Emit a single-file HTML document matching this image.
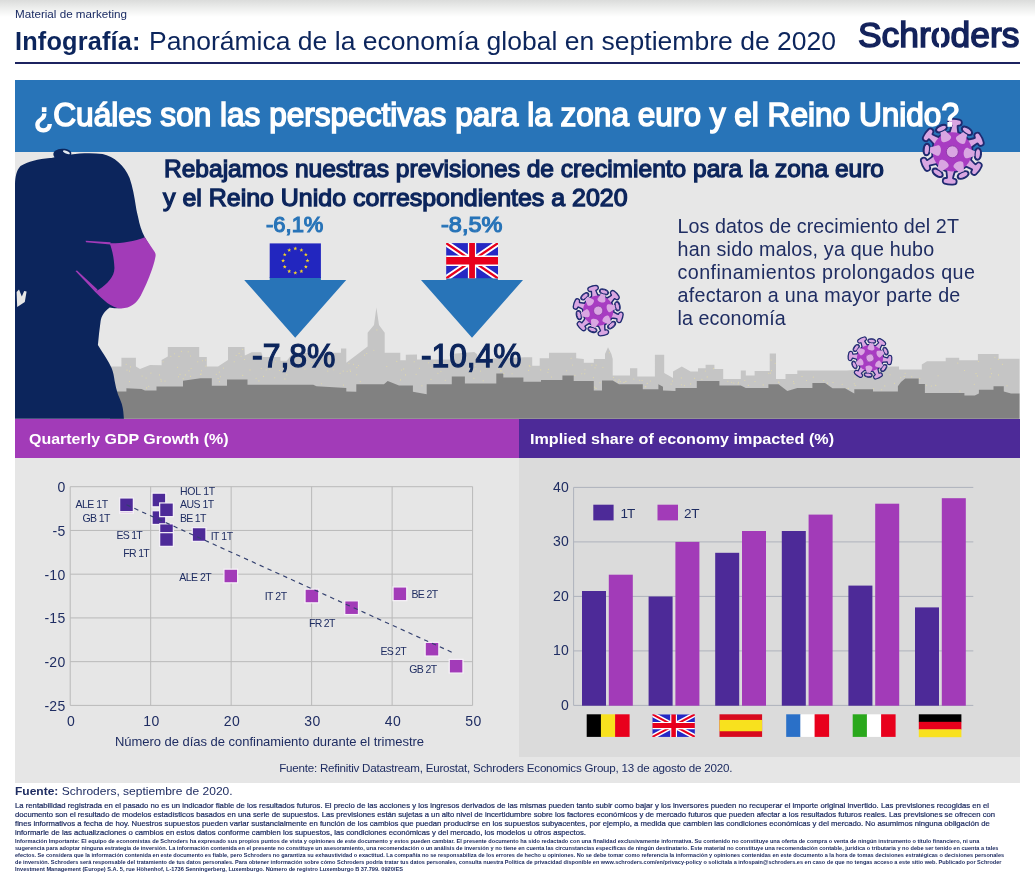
<!DOCTYPE html>
<html lang="es">
<head>
<meta charset="utf-8">
<title>Infografía: Panorámica de la economía global en septiembre de 2020</title>
<style>
html,body{margin:0;padding:0;background:#fff;}
body{width:1035px;height:875px;overflow:hidden;font-family:"Liberation Sans",sans-serif;}
#page{position:relative;width:1035px;height:875px;overflow:hidden;background:#fff;}
.t{position:absolute;white-space:nowrap;margin:0;padding:0;}
.abs{position:absolute;}
svg{position:absolute;left:0;top:0;overflow:visible;}
</style>
</head>
<body>
<div id="page">
<div class="abs" style="left:0;top:0;width:1035px;height:17px;background:linear-gradient(#dbdcdb,#eeefee 50%,#ffffff);"></div>
<div class="abs" style="left:15px;top:62.4px;width:1004.5px;height:1.3px;background:#1c2360;"></div>
<div class="abs" style="left:15px;top:80px;width:1004.5px;height:72px;background:#2874b8;"></div>
<div class="abs" style="left:15px;top:151.7px;width:1004.5px;height:267px;background:#e7e7e7;"></div>
<div class="abs" style="left:15px;top:418.6px;width:504px;height:39.4px;background:#a23bb8;"></div>
<div class="abs" style="left:519px;top:418.6px;width:500.5px;height:39.4px;background:#4d2a98;"></div>
<div class="abs" style="left:15px;top:458px;width:504px;height:325px;background:#e6e6e6;"></div>
<div class="abs" style="left:519px;top:458px;width:500.5px;height:298.8px;background:#dbdbdb;"></div>
<div class="abs" style="left:519px;top:756.8px;width:500.5px;height:26.2px;background:#e6e6e6;"></div>
<svg width="1035" height="875" viewBox="0 0 1035 875">
<path d="M110.0,366.5 L121.4,366.5 L121.4,357.7 L135.9,357.7 L135.9,366.5 L140.0,369.0 L150.0,365.0 L161.6,365.2 L161.6,360.0 L167.8,356.4 L167.8,347.0 L199.2,347.0 L199.2,357.0 L206.8,357.0 L206.8,366.5 L218.0,366.5 L228.0,360.0 L228.0,347.0 L244.5,347.0 L244.8,355.5 L251.7,352.3 L261.3,352.3 L262.8,357.0 L280.4,357.0 L280.4,360.8 L286.8,360.8 L293.0,352.8 L309.0,352.8 L309.0,357.0 L332.5,352.8 L341.0,352.8 L341.0,348.6 L346.3,348.6 L346.3,362.8 L367.6,346.5 L367.6,332.7 L374.0,325.0 L376.4,307.5 L379.0,325.0 L384.7,332.7 L384.7,352.8 L400.3,352.8 L400.3,360.3 L405.8,360.3 L405.8,354.8 L417.0,354.5 L417.0,359.6 L450.0,359.6 L453.0,353.8 L474.3,352.0 L477.2,354.3 L477.2,359.0 L524.7,357.3 L532.2,357.3 L532.2,365.8 L539.7,365.8 L539.7,358.3 L549.0,358.3 L549.0,352.8 L576.2,352.8 L576.2,358.3 L583.8,359.0 L583.8,362.8 L593.8,362.8 L593.8,359.0 L605.0,359.0 L605.0,354.0 L608.0,347.2 L611.4,354.0 L612.7,359.0 L612.7,375.4 L630.0,375.4 L630.0,368.3 L637.3,368.3 L637.3,376.6 L654.9,376.6 L654.9,354.8 L664.2,354.8 L664.2,372.9 L673.0,377.9 L673.0,371.6 L681.8,366.6 L690.6,371.6 L698.0,371.6 L698.0,368.3 L705.6,368.3 L705.6,364.8 L714.4,364.8 L714.4,369.1 L723.2,369.1 L723.2,379.1 L740.8,379.1 L740.8,370.4 L745.8,370.4 L745.8,375.4 L754.6,375.4 L754.6,371.1 L769.7,371.1 L769.7,353.5 L776.0,353.5 L776.0,379.1 L785.5,379.1 L785.5,374.1 L797.3,374.1 L797.3,370.4 L847.0,370.6 L890.6,366.5 L899.0,366.5 L899.0,369.6 L921.8,369.6 L921.8,364.4 L927.0,361.3 L945.7,361.3 L945.7,357.7 L959.2,357.7 L959.2,360.2 L977.9,360.2 L977.9,354.0 L998.6,354.0 L998.6,358.8 L1019.5,358.8 L1019.5,418.8 L110.0,418.8 Z" fill="#c5c5c5"/>
<path d="M110.0,391.6 L126.4,391.6 L126.4,388.3 L141.5,389.0 L145.0,390.4 L156.5,390.4 L156.5,386.6 L183.0,386.6 L183.0,380.8 L200.5,378.3 L211.8,378.3 L211.8,385.8 L227.0,385.8 L227.0,379.5 L247.5,379.5 L247.5,384.8 L313.3,384.7 L316.5,386.3 L346.3,388.0 L346.3,391.6 L356.3,391.7 L356.3,384.2 L384.0,384.2 L387.7,380.9 L399.0,385.4 L412.9,385.4 L412.9,391.7 L426.7,394.2 L426.7,384.2 L451.8,384.2 L451.8,376.6 L464.9,376.6 L464.9,383.4 L496.3,383.4 L496.3,373.4 L503.3,373.4 L503.3,377.4 L523.4,377.4 L523.4,381.7 L541.0,381.7 L541.0,379.9 L562.4,379.9 L562.4,375.4 L573.7,375.4 L573.7,380.9 L593.8,380.9 L593.8,390.5 L602.0,390.5 L602.0,380.4 L612.7,380.4 L619.0,384.2 L642.8,384.2 L642.8,389.2 L658.4,389.2 L658.4,384.2 L663.0,386.7 L663.0,390.5 L675.5,391.0 L675.5,388.0 L696.8,388.0 L696.8,380.9 L719.4,380.9 L719.4,385.4 L740.8,385.4 L745.8,388.0 L768.4,388.0 L768.4,384.2 L778.5,384.2 L787.3,391.0 L797.3,388.0 L812.4,388.0 L812.4,383.0 L825.0,383.0 L832.5,388.3 L845.0,388.3 L854.3,393.5 L854.3,389.3 L873.0,389.3 L873.0,391.4 L897.9,391.4 L897.9,386.2 L901.0,382.0 L905.2,378.5 L918.7,378.5 L918.7,384.1 L924.9,384.1 L924.9,393.0 L964.4,393.0 L964.4,395.5 L974.8,395.5 L978.9,393.5 L978.9,389.7 L993.5,389.7 L993.5,386.2 L1003.8,386.2 L1003.8,391.4 L1011.0,393.5 L1019.5,393.5 L1019.5,418.8 L110.0,418.8 Z" fill="#818181"/>
<g fill="#eadf9f" opacity="0.8"><circle cx="414.2" cy="361.7" r="0.55"/><circle cx="705.3" cy="371.0" r="0.55"/><circle cx="602.9" cy="367.5" r="0.55"/><circle cx="177.6" cy="367.3" r="0.55"/><circle cx="159.4" cy="374.9" r="0.55"/><circle cx="188.2" cy="351.7" r="0.55"/><circle cx="503.8" cy="373.2" r="0.55"/><circle cx="236.2" cy="355.5" r="0.55"/><circle cx="684.4" cy="385.6" r="0.55"/><circle cx="639.6" cy="380.2" r="0.55"/><circle cx="994.9" cy="357.3" r="0.55"/><circle cx="890.0" cy="374.7" r="0.55"/><circle cx="254.4" cy="357.7" r="0.55"/><circle cx="400.5" cy="379.9" r="0.55"/><circle cx="286.8" cy="374.7" r="0.55"/><circle cx="694.6" cy="378.4" r="0.55"/><circle cx="613.5" cy="377.5" r="0.55"/><circle cx="179.0" cy="356.4" r="0.55"/><circle cx="731.6" cy="382.3" r="0.55"/><circle cx="405.6" cy="374.9" r="0.55"/><circle cx="529.3" cy="365.6" r="0.55"/><circle cx="833.0" cy="382.5" r="0.55"/><circle cx="343.2" cy="371.1" r="0.55"/><circle cx="593.4" cy="377.6" r="0.55"/><circle cx="775.2" cy="363.3" r="0.55"/><circle cx="998.4" cy="359.4" r="0.55"/><circle cx="498.1" cy="369.1" r="0.55"/><circle cx="261.3" cy="368.5" r="0.55"/><circle cx="160.9" cy="379.2" r="0.55"/><circle cx="806.5" cy="380.5" r="0.55"/><circle cx="905.2" cy="373.3" r="0.55"/><circle cx="744.8" cy="380.5" r="0.55"/><circle cx="642.1" cy="380.5" r="0.55"/><circle cx="873.6" cy="388.8" r="0.55"/><circle cx="547.9" cy="372.3" r="0.55"/><circle cx="180.0" cy="374.3" r="0.55"/><circle cx="701.9" cy="379.3" r="0.55"/><circle cx="469.4" cy="372.8" r="0.55"/><circle cx="146.1" cy="378.0" r="0.55"/><circle cx="275.6" cy="361.8" r="0.55"/><circle cx="178.5" cy="376.7" r="0.55"/><circle cx="241.1" cy="356.2" r="0.55"/><circle cx="473.9" cy="378.3" r="0.55"/><circle cx="197.7" cy="361.7" r="0.55"/><circle cx="615.0" cy="380.0" r="0.55"/><circle cx="855.2" cy="385.6" r="0.55"/><circle cx="373.8" cy="350.3" r="0.55"/><circle cx="445.3" cy="380.3" r="0.55"/><circle cx="978.4" cy="361.5" r="0.55"/><circle cx="282.8" cy="367.5" r="0.55"/><circle cx="333.7" cy="369.8" r="0.55"/><circle cx="650.3" cy="381.0" r="0.55"/><circle cx="129.6" cy="371.1" r="0.55"/><circle cx="454.6" cy="366.7" r="0.55"/><circle cx="974.3" cy="384.2" r="0.55"/><circle cx="584.8" cy="373.8" r="0.55"/><circle cx="727.8" cy="381.3" r="0.55"/><circle cx="926.6" cy="385.3" r="0.55"/><circle cx="904.3" cy="376.5" r="0.55"/><circle cx="475.2" cy="365.6" r="0.55"/><circle cx="218.1" cy="378.5" r="0.55"/><circle cx="181.4" cy="351.4" r="0.55"/><circle cx="311.8" cy="362.5" r="0.55"/><circle cx="428.6" cy="362.7" r="0.55"/><circle cx="126.2" cy="364.3" r="0.55"/><circle cx="216.3" cy="374.2" r="0.55"/><circle cx="148.7" cy="386.2" r="0.55"/><circle cx="672.5" cy="381.1" r="0.55"/><circle cx="350.5" cy="371.5" r="0.55"/><circle cx="450.1" cy="364.0" r="0.55"/><circle cx="881.6" cy="389.8" r="0.55"/><circle cx="540.7" cy="369.9" r="0.55"/><circle cx="202.4" cy="360.8" r="0.55"/><circle cx="430.9" cy="367.2" r="0.55"/><circle cx="146.6" cy="387.9" r="0.55"/><circle cx="596.1" cy="365.1" r="0.55"/><circle cx="609.4" cy="352.8" r="0.55"/><circle cx="596.0" cy="388.4" r="0.55"/><circle cx="894.4" cy="383.4" r="0.55"/><circle cx="358.4" cy="365.5" r="0.55"/><circle cx="274.7" cy="377.7" r="0.55"/><circle cx="600.0" cy="382.8" r="0.55"/><circle cx="419.4" cy="368.2" r="0.55"/><circle cx="848.2" cy="388.4" r="0.55"/><circle cx="884.8" cy="385.9" r="0.55"/><circle cx="854.3" cy="383.7" r="0.55"/><circle cx="327.8" cy="371.1" r="0.55"/><circle cx="442.5" cy="362.2" r="0.55"/><circle cx="150.9" cy="373.1" r="0.55"/><circle cx="356.7" cy="374.8" r="0.55"/><circle cx="977.3" cy="375.9" r="0.55"/><circle cx="959.9" cy="391.1" r="0.55"/><circle cx="976.0" cy="373.6" r="0.55"/><circle cx="322.2" cy="363.1" r="0.55"/><circle cx="301.1" cy="360.6" r="0.55"/><circle cx="681.4" cy="384.7" r="0.55"/><circle cx="707.2" cy="376.9" r="0.55"/><circle cx="201.5" cy="370.8" r="0.55"/><circle cx="935.7" cy="385.4" r="0.55"/><circle cx="793.6" cy="381.6" r="0.55"/><circle cx="284.9" cy="378.9" r="0.55"/><circle cx="421.9" cy="385.8" r="0.55"/><circle cx="990.8" cy="368.7" r="0.55"/><circle cx="483.2" cy="380.8" r="0.55"/><circle cx="771.1" cy="360.1" r="0.55"/><circle cx="239.1" cy="353.4" r="0.55"/><circle cx="931.3" cy="386.0" r="0.55"/><circle cx="256.1" cy="378.3" r="0.55"/><circle cx="998.5" cy="374.9" r="0.55"/><circle cx="437.9" cy="373.2" r="0.55"/><circle cx="242.6" cy="349.4" r="0.55"/><circle cx="990.1" cy="376.9" r="0.55"/><circle cx="594.7" cy="387.1" r="0.55"/><circle cx="512.1" cy="373.8" r="0.55"/><circle cx="350.1" cy="370.1" r="0.55"/><circle cx="340.1" cy="373.2" r="0.55"/><circle cx="356.8" cy="367.6" r="0.55"/><circle cx="242.7" cy="375.4" r="0.55"/><circle cx="440.9" cy="371.3" r="0.55"/><circle cx="645.2" cy="386.8" r="0.55"/><circle cx="500.4" cy="370.9" r="0.55"/><circle cx="572.5" cy="365.0" r="0.55"/><circle cx="591.9" cy="365.1" r="0.55"/><circle cx="517.7" cy="362.5" r="0.55"/><circle cx="129.5" cy="381.5" r="0.55"/><circle cx="279.4" cy="370.5" r="0.55"/><circle cx="771.4" cy="370.6" r="0.55"/><circle cx="416.1" cy="374.3" r="0.55"/><circle cx="620.3" cy="381.6" r="0.55"/><circle cx="220.4" cy="376.7" r="0.55"/><circle cx="347.2" cy="371.3" r="0.55"/><circle cx="813.3" cy="377.1" r="0.55"/><circle cx="625.9" cy="381.4" r="0.55"/><circle cx="938.1" cy="375.8" r="0.55"/><circle cx="671.1" cy="384.1" r="0.55"/><circle cx="581.8" cy="373.7" r="0.55"/><circle cx="528.6" cy="370.4" r="0.55"/><circle cx="551.5" cy="377.0" r="0.55"/><circle cx="748.3" cy="385.4" r="0.55"/><circle cx="964.5" cy="370.5" r="0.55"/><circle cx="624.0" cy="382.4" r="0.55"/><circle cx="234.2" cy="361.8" r="0.55"/><circle cx="190.6" cy="356.0" r="0.55"/><circle cx="191.1" cy="368.5" r="0.55"/><circle cx="823.7" cy="380.6" r="0.55"/><circle cx="263.5" cy="376.4" r="0.55"/><circle cx="713.6" cy="368.6" r="0.55"/><circle cx="911.7" cy="376.8" r="0.55"/><circle cx="321.4" cy="383.7" r="0.55"/><circle cx="480.4" cy="371.1" r="0.55"/><circle cx="1007.0" cy="385.8" r="0.55"/><circle cx="269.7" cy="369.5" r="0.55"/><circle cx="584.9" cy="369.8" r="0.55"/><circle cx="300.2" cy="363.9" r="0.55"/><circle cx="768.7" cy="373.3" r="0.55"/><circle cx="619.1" cy="379.7" r="0.55"/><circle cx="142.1" cy="376.0" r="0.55"/><circle cx="681.3" cy="377.9" r="0.55"/><circle cx="183.2" cy="378.8" r="0.55"/><circle cx="827.6" cy="383.1" r="0.55"/><circle cx="219.3" cy="372.1" r="0.55"/><circle cx="161.2" cy="381.1" r="0.55"/><circle cx="366.7" cy="353.5" r="0.55"/><circle cx="501.8" cy="370.9" r="0.55"/><circle cx="854.9" cy="376.0" r="0.55"/><circle cx="258.9" cy="380.9" r="0.55"/><circle cx="633.8" cy="379.0" r="0.55"/><circle cx="205.6" cy="360.0" r="0.55"/><circle cx="738.5" cy="382.3" r="0.55"/><circle cx="190.4" cy="376.4" r="0.55"/><circle cx="690.7" cy="383.9" r="0.55"/><circle cx="200.5" cy="374.2" r="0.55"/><circle cx="185.3" cy="374.9" r="0.55"/><circle cx="529.9" cy="366.4" r="0.55"/><circle cx="618.2" cy="381.9" r="0.55"/><circle cx="364.4" cy="355.1" r="0.55"/><circle cx="595.0" cy="367.7" r="0.55"/><circle cx="223.4" cy="368.1" r="0.55"/><circle cx="170.8" cy="356.3" r="0.55"/><circle cx="403.7" cy="368.9" r="0.55"/><circle cx="802.0" cy="376.5" r="0.55"/><circle cx="571.1" cy="358.2" r="0.55"/><circle cx="434.8" cy="362.0" r="0.55"/><circle cx="348.9" cy="363.2" r="0.55"/><circle cx="778.4" cy="382.0" r="0.55"/><circle cx="294.6" cy="368.3" r="0.55"/><circle cx="957.8" cy="363.1" r="0.55"/><circle cx="854.8" cy="378.8" r="0.55"/><circle cx="566.6" cy="370.7" r="0.55"/><circle cx="475.8" cy="368.7" r="0.55"/><circle cx="738.1" cy="383.9" r="0.55"/><circle cx="431.0" cy="379.2" r="0.55"/><circle cx="755.0" cy="381.6" r="0.55"/><circle cx="486.2" cy="368.1" r="0.55"/><circle cx="174.4" cy="353.7" r="0.55"/><circle cx="188.9" cy="370.8" r="0.55"/><circle cx="353.5" cy="364.3" r="0.55"/><circle cx="201.2" cy="374.0" r="0.55"/><circle cx="900.8" cy="377.8" r="0.55"/><circle cx="376.9" cy="329.9" r="0.55"/><circle cx="386.8" cy="366.5" r="0.55"/><circle cx="266.2" cy="369.8" r="0.55"/><circle cx="360.3" cy="381.6" r="0.55"/><circle cx="991.6" cy="373.6" r="0.55"/><circle cx="343.6" cy="385.1" r="0.55"/><circle cx="401.5" cy="370.0" r="0.55"/><circle cx="127.0" cy="370.1" r="0.55"/><circle cx="548.4" cy="369.4" r="0.55"/><circle cx="304.9" cy="369.1" r="0.55"/><circle cx="130.4" cy="366.9" r="0.55"/><circle cx="205.9" cy="366.1" r="0.55"/><circle cx="163.1" cy="361.7" r="0.55"/><circle cx="396.8" cy="361.4" r="0.55"/><circle cx="647.2" cy="383.4" r="0.55"/><circle cx="794.0" cy="383.6" r="0.55"/><circle cx="763.2" cy="384.9" r="0.55"/><circle cx="472.7" cy="363.2" r="0.55"/><circle cx="1002.4" cy="364.4" r="0.55"/><circle cx="770.5" cy="373.0" r="0.55"/><circle cx="165.0" cy="381.0" r="0.55"/><circle cx="919.8" cy="378.5" r="0.55"/><circle cx="779.1" cy="382.8" r="0.55"/><circle cx="250.0" cy="369.9" r="0.55"/><circle cx="574.9" cy="375.3" r="0.55"/><circle cx="842.2" cy="384.3" r="0.55"/><circle cx="645.8" cy="386.7" r="0.55"/><circle cx="733.8" cy="383.0" r="0.55"/><circle cx="330.6" cy="356.1" r="0.55"/><circle cx="244.5" cy="359.5" r="0.55"/><circle cx="219.4" cy="381.6" r="0.55"/></g>
<path d="M15,418.8 L15,184 C15.3,176 16.5,170.5 20.5,166 C28,161.5 38,159 50,158 C52,157.8 53.5,157.6 54.5,157.2 C51.5,153.5 54.5,149.2 62,148.8 C68.5,148.6 72.5,151.2 71,154.6 C80,153.2 92,152.8 102.5,154 C114,156.2 124.5,165.5 129.6,178 C132.8,187 134.4,197 135.8,206 C136.4,210.5 137.4,214 138.4,218.5 C139.3,224 141.5,231 144.8,237.3 L150,246 L140,296 L121,308 C116,308.5 112.5,308.2 109.7,307.5 C104.5,311 101.5,316 100.6,321.2 C99.5,329 98.6,337 97.9,345 C100.5,349.5 103.5,353.5 105.8,357.5 C108,361 110,364.5 111.7,368.2 C113.2,372 114,376.5 114.6,380.8 C115.4,385.5 116.5,390 118,394.4 C119.3,397.7 120.8,400.8 121.8,404 C122.6,406.6 123,409.2 123.3,411.8 L123.9,418.8 Z" fill="#0c255c"/>
<path d="M16.6,292 L19,289.6 L21.8,296.5 L24.2,291 L26.6,291.5 L24.8,302 L17.2,307 Z" fill="#e7e7e7"/>
<ellipse cx="66.4" cy="152.2" rx="3.7" ry="1.35" transform="rotate(24 66.4 152.2)" fill="#e3e9f0"/>
<path d="M109.6,243.2 C121,243.4 134,241.6 144.8,237.2 L154.2,251.2 C155.8,253.4 155.9,255.2 155.3,257.4 C154.4,262 153,266.5 151.6,270.4 C148.4,279.5 144.6,288 140.8,295.6 C136.6,303.6 130.2,308.6 120.7,308.4 C111.5,308 102.8,299.5 94.8,291.4 L98.6,289.8 C108,283.5 114.8,276 114.4,267.5 C114,258 112.2,249.6 109.6,243.2 Z" fill="#a23bb8"/>
<path d="M85.6,240.8 L110.5,242.3 L110.5,244.4 L86,242.3 Z" fill="#a23bb8"/>
<path d="M75.5,271 L77,270.6 L97.5,289.6 L95.5,292.2 Z" fill="#a23bb8"/>
<path d="M269.7,277 L320.9,277 L320.9,279.9 L346.2,279.9 L295.2,337.8 L244.2,279.9 L269.7,279.9 Z" fill="#2874b8"/>
<path d="M446.3,277 L497.9,277 L497.9,279.9 L523.0,279.9 L472.0,337.8 L421.0,279.9 L446.3,279.9 Z" fill="#2874b8"/>
<rect x="269.7" y="243.4" width="51.2" height="34.6" fill="#2226bf"/>
<polygon points="307.50,258.60 308.02,259.99 309.50,260.05 308.34,260.97 308.73,262.40 307.50,261.58 306.27,262.40 306.66,260.97 305.50,260.05 306.98,259.99" fill="#f5d328"/>
<polygon points="305.87,264.70 306.38,266.09 307.86,266.15 306.70,267.07 307.10,268.50 305.87,267.68 304.63,268.50 305.03,267.07 303.87,266.15 305.35,266.09" fill="#f5d328"/>
<polygon points="301.40,269.17 301.92,270.55 303.40,270.62 302.24,271.54 302.63,272.96 301.40,272.15 300.17,272.96 300.56,271.54 299.40,270.62 300.88,270.55" fill="#f5d328"/>
<polygon points="295.30,270.80 295.82,272.19 297.30,272.25 296.14,273.17 296.53,274.60 295.30,273.78 294.07,274.60 294.46,273.17 293.30,272.25 294.78,272.19" fill="#f5d328"/>
<polygon points="289.20,269.17 289.72,270.55 291.20,270.62 290.04,271.54 290.43,272.96 289.20,272.15 287.97,272.96 288.36,271.54 287.20,270.62 288.68,270.55" fill="#f5d328"/>
<polygon points="284.73,264.70 285.25,266.09 286.73,266.15 285.57,267.07 285.97,268.50 284.73,267.68 283.50,268.50 283.90,267.07 282.74,266.15 284.22,266.09" fill="#f5d328"/>
<polygon points="283.10,258.60 283.62,259.99 285.10,260.05 283.94,260.97 284.33,262.40 283.10,261.58 281.87,262.40 282.26,260.97 281.10,260.05 282.58,259.99" fill="#f5d328"/>
<polygon points="284.73,252.50 285.25,253.89 286.73,253.95 285.57,254.87 285.97,256.30 284.73,255.48 283.50,256.30 283.90,254.87 282.74,253.95 284.22,253.89" fill="#f5d328"/>
<polygon points="289.20,248.03 289.72,249.42 291.20,249.49 290.04,250.41 290.43,251.83 289.20,251.02 287.97,251.83 288.36,250.41 287.20,249.49 288.68,249.42" fill="#f5d328"/>
<polygon points="295.30,246.40 295.82,247.79 297.30,247.85 296.14,248.77 296.53,250.20 295.30,249.38 294.07,250.20 294.46,248.77 293.30,247.85 294.78,247.79" fill="#f5d328"/>
<polygon points="301.40,248.03 301.92,249.42 303.40,249.49 302.24,250.41 302.63,251.83 301.40,251.02 300.17,251.83 300.56,250.41 299.40,249.49 300.88,249.42" fill="#f5d328"/>
<polygon points="305.87,252.50 306.38,253.89 307.86,253.95 306.70,254.87 307.10,256.30 305.87,255.48 304.63,256.30 305.03,254.87 303.87,253.95 305.35,253.89" fill="#f5d328"/>
<svg x="446.1" y="243.1" width="51.9" height="35.3" viewBox="0 0 60 40" preserveAspectRatio="none" style="overflow:hidden"><g><rect width="60" height="40" fill="#2528c4"/><path d="M0,0 L60,40 M60,0 L0,40" stroke="#fff" stroke-width="6.8"/><path d="M0,0 L60,40 M60,0 L0,40" stroke="#e8001c" stroke-width="2.6"/><path d="M30,0 V40" stroke="#fff" stroke-width="9.6"/><path d="M0,20 H60" stroke="#fff" stroke-width="11.8"/><path d="M30,0 V40" stroke="#e8001c" stroke-width="6.7"/><path d="M0,20 H60" stroke="#e8001c" stroke-width="8.6"/></g></svg>
<g transform="translate(952.3,151.8) scale(1.0) rotate(0)"><path transform="rotate(-85)" d="M17,-3.8 C20.5,-3.3 23.5,-2.3 26.4,-2.1 C27.3,-2.3 27.5,-3.4 27.6,-4.6 C27.8,-6.4 31.0,-6.6 31.5,-4.7 C32.2,-1.6 32.2,1.6 31.5,4.7 C31.0,6.6 27.8,6.4 27.6,4.6 C27.5,3.4 27.3,2.3 26.4,2.1 C23.5,2.3 20.5,3.3 17,3.8 Z" fill="#1f2a70" stroke="#1f2a70" stroke-width="3.6" stroke-linejoin="round"/><path transform="rotate(-25)" d="M17,-3.8 C20.5,-3.3 23.5,-2.3 26.4,-2.1 C27.3,-2.3 27.5,-3.4 27.6,-4.6 C27.8,-6.4 31.0,-6.6 31.5,-4.7 C32.2,-1.6 32.2,1.6 31.5,4.7 C31.0,6.6 27.8,6.4 27.6,4.6 C27.5,3.4 27.3,2.3 26.4,2.1 C23.5,2.3 20.5,3.3 17,3.8 Z" fill="#1f2a70" stroke="#1f2a70" stroke-width="3.6" stroke-linejoin="round"/><path transform="rotate(35)" d="M17,-3.8 C20.5,-3.3 23.5,-2.3 26.4,-2.1 C27.3,-2.3 27.5,-3.4 27.6,-4.6 C27.8,-6.4 31.0,-6.6 31.5,-4.7 C32.2,-1.6 32.2,1.6 31.5,4.7 C31.0,6.6 27.8,6.4 27.6,4.6 C27.5,3.4 27.3,2.3 26.4,2.1 C23.5,2.3 20.5,3.3 17,3.8 Z" fill="#1f2a70" stroke="#1f2a70" stroke-width="3.6" stroke-linejoin="round"/><path transform="rotate(95)" d="M17,-3.8 C20.5,-3.3 23.5,-2.3 26.4,-2.1 C27.3,-2.3 27.5,-3.4 27.6,-4.6 C27.8,-6.4 31.0,-6.6 31.5,-4.7 C32.2,-1.6 32.2,1.6 31.5,4.7 C31.0,6.6 27.8,6.4 27.6,4.6 C27.5,3.4 27.3,2.3 26.4,2.1 C23.5,2.3 20.5,3.3 17,3.8 Z" fill="#1f2a70" stroke="#1f2a70" stroke-width="3.6" stroke-linejoin="round"/><path transform="rotate(155)" d="M17,-3.8 C20.5,-3.3 23.5,-2.3 26.4,-2.1 C27.3,-2.3 27.5,-3.4 27.6,-4.6 C27.8,-6.4 31.0,-6.6 31.5,-4.7 C32.2,-1.6 32.2,1.6 31.5,4.7 C31.0,6.6 27.8,6.4 27.6,4.6 C27.5,3.4 27.3,2.3 26.4,2.1 C23.5,2.3 20.5,3.3 17,3.8 Z" fill="#1f2a70" stroke="#1f2a70" stroke-width="3.6" stroke-linejoin="round"/><path transform="rotate(215)" d="M17,-3.8 C20.5,-3.3 23.5,-2.3 26.4,-2.1 C27.3,-2.3 27.5,-3.4 27.6,-4.6 C27.8,-6.4 31.0,-6.6 31.5,-4.7 C32.2,-1.6 32.2,1.6 31.5,4.7 C31.0,6.6 27.8,6.4 27.6,4.6 C27.5,3.4 27.3,2.3 26.4,2.1 C23.5,2.3 20.5,3.3 17,3.8 Z" fill="#1f2a70" stroke="#1f2a70" stroke-width="3.6" stroke-linejoin="round"/><circle r="19.6" fill="#1f2a70" stroke="#1f2a70" stroke-width="3.2"/><ellipse transform="rotate(-55)" cx="25.6" cy="0" rx="2.7" ry="5.3" fill="#1f2a70" stroke="#1f2a70" stroke-width="3.0"/><ellipse transform="rotate(5)" cx="25.6" cy="0" rx="2.7" ry="5.3" fill="#1f2a70" stroke="#1f2a70" stroke-width="3.0"/><ellipse transform="rotate(65)" cx="25.6" cy="0" rx="2.7" ry="5.3" fill="#1f2a70" stroke="#1f2a70" stroke-width="3.0"/><ellipse transform="rotate(125)" cx="25.6" cy="0" rx="2.7" ry="5.3" fill="#1f2a70" stroke="#1f2a70" stroke-width="3.0"/><ellipse transform="rotate(185)" cx="25.6" cy="0" rx="2.7" ry="5.3" fill="#1f2a70" stroke="#1f2a70" stroke-width="3.0"/><ellipse transform="rotate(245)" cx="25.6" cy="0" rx="2.7" ry="5.3" fill="#1f2a70" stroke="#1f2a70" stroke-width="3.0"/><path transform="rotate(-85)" d="M17,-3.8 C20.5,-3.3 23.5,-2.3 26.4,-2.1 C27.3,-2.3 27.5,-3.4 27.6,-4.6 C27.8,-6.4 31.0,-6.6 31.5,-4.7 C32.2,-1.6 32.2,1.6 31.5,4.7 C31.0,6.6 27.8,6.4 27.6,4.6 C27.5,3.4 27.3,2.3 26.4,2.1 C23.5,2.3 20.5,3.3 17,3.8 Z" fill="#d9a6e2"/><path transform="rotate(-25)" d="M17,-3.8 C20.5,-3.3 23.5,-2.3 26.4,-2.1 C27.3,-2.3 27.5,-3.4 27.6,-4.6 C27.8,-6.4 31.0,-6.6 31.5,-4.7 C32.2,-1.6 32.2,1.6 31.5,4.7 C31.0,6.6 27.8,6.4 27.6,4.6 C27.5,3.4 27.3,2.3 26.4,2.1 C23.5,2.3 20.5,3.3 17,3.8 Z" fill="#d9a6e2"/><path transform="rotate(35)" d="M17,-3.8 C20.5,-3.3 23.5,-2.3 26.4,-2.1 C27.3,-2.3 27.5,-3.4 27.6,-4.6 C27.8,-6.4 31.0,-6.6 31.5,-4.7 C32.2,-1.6 32.2,1.6 31.5,4.7 C31.0,6.6 27.8,6.4 27.6,4.6 C27.5,3.4 27.3,2.3 26.4,2.1 C23.5,2.3 20.5,3.3 17,3.8 Z" fill="#d9a6e2"/><path transform="rotate(95)" d="M17,-3.8 C20.5,-3.3 23.5,-2.3 26.4,-2.1 C27.3,-2.3 27.5,-3.4 27.6,-4.6 C27.8,-6.4 31.0,-6.6 31.5,-4.7 C32.2,-1.6 32.2,1.6 31.5,4.7 C31.0,6.6 27.8,6.4 27.6,4.6 C27.5,3.4 27.3,2.3 26.4,2.1 C23.5,2.3 20.5,3.3 17,3.8 Z" fill="#d9a6e2"/><path transform="rotate(155)" d="M17,-3.8 C20.5,-3.3 23.5,-2.3 26.4,-2.1 C27.3,-2.3 27.5,-3.4 27.6,-4.6 C27.8,-6.4 31.0,-6.6 31.5,-4.7 C32.2,-1.6 32.2,1.6 31.5,4.7 C31.0,6.6 27.8,6.4 27.6,4.6 C27.5,3.4 27.3,2.3 26.4,2.1 C23.5,2.3 20.5,3.3 17,3.8 Z" fill="#d9a6e2"/><path transform="rotate(215)" d="M17,-3.8 C20.5,-3.3 23.5,-2.3 26.4,-2.1 C27.3,-2.3 27.5,-3.4 27.6,-4.6 C27.8,-6.4 31.0,-6.6 31.5,-4.7 C32.2,-1.6 32.2,1.6 31.5,4.7 C31.0,6.6 27.8,6.4 27.6,4.6 C27.5,3.4 27.3,2.3 26.4,2.1 C23.5,2.3 20.5,3.3 17,3.8 Z" fill="#d9a6e2"/><circle r="19.6" fill="#a83cc2"/><g transform="rotate(-55)"><path d="M12.6,-4.2 C11,-2 11,2 12.6,4.2 C13.4,5.4 14.6,5.4 15.6,5 L23,2.3 L23,-2.3 L15.6,-5 C14.6,-5.4 13.4,-5.4 12.6,-4.2 Z" fill="#d9a6e2"/><ellipse cx="25.6" cy="0" rx="2.7" ry="5.3" fill="#d9a6e2" stroke="#1f2a70" stroke-width="1.15"/></g><g transform="rotate(5)"><path d="M12.6,-4.2 C11,-2 11,2 12.6,4.2 C13.4,5.4 14.6,5.4 15.6,5 L23,2.3 L23,-2.3 L15.6,-5 C14.6,-5.4 13.4,-5.4 12.6,-4.2 Z" fill="#d9a6e2"/><ellipse cx="25.6" cy="0" rx="2.7" ry="5.3" fill="#d9a6e2" stroke="#1f2a70" stroke-width="1.15"/></g><g transform="rotate(65)"><path d="M12.6,-4.2 C11,-2 11,2 12.6,4.2 C13.4,5.4 14.6,5.4 15.6,5 L23,2.3 L23,-2.3 L15.6,-5 C14.6,-5.4 13.4,-5.4 12.6,-4.2 Z" fill="#d9a6e2"/><ellipse cx="25.6" cy="0" rx="2.7" ry="5.3" fill="#d9a6e2" stroke="#1f2a70" stroke-width="1.15"/></g><g transform="rotate(125)"><path d="M12.6,-4.2 C11,-2 11,2 12.6,4.2 C13.4,5.4 14.6,5.4 15.6,5 L23,2.3 L23,-2.3 L15.6,-5 C14.6,-5.4 13.4,-5.4 12.6,-4.2 Z" fill="#d9a6e2"/><ellipse cx="25.6" cy="0" rx="2.7" ry="5.3" fill="#d9a6e2" stroke="#1f2a70" stroke-width="1.15"/></g><g transform="rotate(185)"><path d="M12.6,-4.2 C11,-2 11,2 12.6,4.2 C13.4,5.4 14.6,5.4 15.6,5 L23,2.3 L23,-2.3 L15.6,-5 C14.6,-5.4 13.4,-5.4 12.6,-4.2 Z" fill="#d9a6e2"/><ellipse cx="25.6" cy="0" rx="2.7" ry="5.3" fill="#d9a6e2" stroke="#1f2a70" stroke-width="1.15"/></g><g transform="rotate(245)"><path d="M12.6,-4.2 C11,-2 11,2 12.6,4.2 C13.4,5.4 14.6,5.4 15.6,5 L23,2.3 L23,-2.3 L15.6,-5 C14.6,-5.4 13.4,-5.4 12.6,-4.2 Z" fill="#d9a6e2"/><ellipse cx="25.6" cy="0" rx="2.7" ry="5.3" fill="#d9a6e2" stroke="#1f2a70" stroke-width="1.15"/></g><circle r="6" fill="#d9a6e2" stroke="#8b36a6" stroke-width="0.9"/></g>
<g transform="translate(598.2,310.7) scale(0.77) rotate(-18)"><path transform="rotate(-85)" d="M17,-3.8 C20.5,-3.3 23.5,-2.3 26.4,-2.1 C27.3,-2.3 27.5,-3.4 27.6,-4.6 C27.8,-6.4 31.0,-6.6 31.5,-4.7 C32.2,-1.6 32.2,1.6 31.5,4.7 C31.0,6.6 27.8,6.4 27.6,4.6 C27.5,3.4 27.3,2.3 26.4,2.1 C23.5,2.3 20.5,3.3 17,3.8 Z" fill="#1f2a70" stroke="#1f2a70" stroke-width="3.6" stroke-linejoin="round"/><path transform="rotate(-25)" d="M17,-3.8 C20.5,-3.3 23.5,-2.3 26.4,-2.1 C27.3,-2.3 27.5,-3.4 27.6,-4.6 C27.8,-6.4 31.0,-6.6 31.5,-4.7 C32.2,-1.6 32.2,1.6 31.5,4.7 C31.0,6.6 27.8,6.4 27.6,4.6 C27.5,3.4 27.3,2.3 26.4,2.1 C23.5,2.3 20.5,3.3 17,3.8 Z" fill="#1f2a70" stroke="#1f2a70" stroke-width="3.6" stroke-linejoin="round"/><path transform="rotate(35)" d="M17,-3.8 C20.5,-3.3 23.5,-2.3 26.4,-2.1 C27.3,-2.3 27.5,-3.4 27.6,-4.6 C27.8,-6.4 31.0,-6.6 31.5,-4.7 C32.2,-1.6 32.2,1.6 31.5,4.7 C31.0,6.6 27.8,6.4 27.6,4.6 C27.5,3.4 27.3,2.3 26.4,2.1 C23.5,2.3 20.5,3.3 17,3.8 Z" fill="#1f2a70" stroke="#1f2a70" stroke-width="3.6" stroke-linejoin="round"/><path transform="rotate(95)" d="M17,-3.8 C20.5,-3.3 23.5,-2.3 26.4,-2.1 C27.3,-2.3 27.5,-3.4 27.6,-4.6 C27.8,-6.4 31.0,-6.6 31.5,-4.7 C32.2,-1.6 32.2,1.6 31.5,4.7 C31.0,6.6 27.8,6.4 27.6,4.6 C27.5,3.4 27.3,2.3 26.4,2.1 C23.5,2.3 20.5,3.3 17,3.8 Z" fill="#1f2a70" stroke="#1f2a70" stroke-width="3.6" stroke-linejoin="round"/><path transform="rotate(155)" d="M17,-3.8 C20.5,-3.3 23.5,-2.3 26.4,-2.1 C27.3,-2.3 27.5,-3.4 27.6,-4.6 C27.8,-6.4 31.0,-6.6 31.5,-4.7 C32.2,-1.6 32.2,1.6 31.5,4.7 C31.0,6.6 27.8,6.4 27.6,4.6 C27.5,3.4 27.3,2.3 26.4,2.1 C23.5,2.3 20.5,3.3 17,3.8 Z" fill="#1f2a70" stroke="#1f2a70" stroke-width="3.6" stroke-linejoin="round"/><path transform="rotate(215)" d="M17,-3.8 C20.5,-3.3 23.5,-2.3 26.4,-2.1 C27.3,-2.3 27.5,-3.4 27.6,-4.6 C27.8,-6.4 31.0,-6.6 31.5,-4.7 C32.2,-1.6 32.2,1.6 31.5,4.7 C31.0,6.6 27.8,6.4 27.6,4.6 C27.5,3.4 27.3,2.3 26.4,2.1 C23.5,2.3 20.5,3.3 17,3.8 Z" fill="#1f2a70" stroke="#1f2a70" stroke-width="3.6" stroke-linejoin="round"/><circle r="19.6" fill="#1f2a70" stroke="#1f2a70" stroke-width="3.2"/><ellipse transform="rotate(-55)" cx="25.6" cy="0" rx="2.7" ry="5.3" fill="#1f2a70" stroke="#1f2a70" stroke-width="3.0"/><ellipse transform="rotate(5)" cx="25.6" cy="0" rx="2.7" ry="5.3" fill="#1f2a70" stroke="#1f2a70" stroke-width="3.0"/><ellipse transform="rotate(65)" cx="25.6" cy="0" rx="2.7" ry="5.3" fill="#1f2a70" stroke="#1f2a70" stroke-width="3.0"/><ellipse transform="rotate(125)" cx="25.6" cy="0" rx="2.7" ry="5.3" fill="#1f2a70" stroke="#1f2a70" stroke-width="3.0"/><ellipse transform="rotate(185)" cx="25.6" cy="0" rx="2.7" ry="5.3" fill="#1f2a70" stroke="#1f2a70" stroke-width="3.0"/><ellipse transform="rotate(245)" cx="25.6" cy="0" rx="2.7" ry="5.3" fill="#1f2a70" stroke="#1f2a70" stroke-width="3.0"/><path transform="rotate(-85)" d="M17,-3.8 C20.5,-3.3 23.5,-2.3 26.4,-2.1 C27.3,-2.3 27.5,-3.4 27.6,-4.6 C27.8,-6.4 31.0,-6.6 31.5,-4.7 C32.2,-1.6 32.2,1.6 31.5,4.7 C31.0,6.6 27.8,6.4 27.6,4.6 C27.5,3.4 27.3,2.3 26.4,2.1 C23.5,2.3 20.5,3.3 17,3.8 Z" fill="#d9a6e2"/><path transform="rotate(-25)" d="M17,-3.8 C20.5,-3.3 23.5,-2.3 26.4,-2.1 C27.3,-2.3 27.5,-3.4 27.6,-4.6 C27.8,-6.4 31.0,-6.6 31.5,-4.7 C32.2,-1.6 32.2,1.6 31.5,4.7 C31.0,6.6 27.8,6.4 27.6,4.6 C27.5,3.4 27.3,2.3 26.4,2.1 C23.5,2.3 20.5,3.3 17,3.8 Z" fill="#d9a6e2"/><path transform="rotate(35)" d="M17,-3.8 C20.5,-3.3 23.5,-2.3 26.4,-2.1 C27.3,-2.3 27.5,-3.4 27.6,-4.6 C27.8,-6.4 31.0,-6.6 31.5,-4.7 C32.2,-1.6 32.2,1.6 31.5,4.7 C31.0,6.6 27.8,6.4 27.6,4.6 C27.5,3.4 27.3,2.3 26.4,2.1 C23.5,2.3 20.5,3.3 17,3.8 Z" fill="#d9a6e2"/><path transform="rotate(95)" d="M17,-3.8 C20.5,-3.3 23.5,-2.3 26.4,-2.1 C27.3,-2.3 27.5,-3.4 27.6,-4.6 C27.8,-6.4 31.0,-6.6 31.5,-4.7 C32.2,-1.6 32.2,1.6 31.5,4.7 C31.0,6.6 27.8,6.4 27.6,4.6 C27.5,3.4 27.3,2.3 26.4,2.1 C23.5,2.3 20.5,3.3 17,3.8 Z" fill="#d9a6e2"/><path transform="rotate(155)" d="M17,-3.8 C20.5,-3.3 23.5,-2.3 26.4,-2.1 C27.3,-2.3 27.5,-3.4 27.6,-4.6 C27.8,-6.4 31.0,-6.6 31.5,-4.7 C32.2,-1.6 32.2,1.6 31.5,4.7 C31.0,6.6 27.8,6.4 27.6,4.6 C27.5,3.4 27.3,2.3 26.4,2.1 C23.5,2.3 20.5,3.3 17,3.8 Z" fill="#d9a6e2"/><path transform="rotate(215)" d="M17,-3.8 C20.5,-3.3 23.5,-2.3 26.4,-2.1 C27.3,-2.3 27.5,-3.4 27.6,-4.6 C27.8,-6.4 31.0,-6.6 31.5,-4.7 C32.2,-1.6 32.2,1.6 31.5,4.7 C31.0,6.6 27.8,6.4 27.6,4.6 C27.5,3.4 27.3,2.3 26.4,2.1 C23.5,2.3 20.5,3.3 17,3.8 Z" fill="#d9a6e2"/><circle r="19.6" fill="#a83cc2"/><g transform="rotate(-55)"><path d="M12.6,-4.2 C11,-2 11,2 12.6,4.2 C13.4,5.4 14.6,5.4 15.6,5 L23,2.3 L23,-2.3 L15.6,-5 C14.6,-5.4 13.4,-5.4 12.6,-4.2 Z" fill="#d9a6e2"/><ellipse cx="25.6" cy="0" rx="2.7" ry="5.3" fill="#d9a6e2" stroke="#1f2a70" stroke-width="1.15"/></g><g transform="rotate(5)"><path d="M12.6,-4.2 C11,-2 11,2 12.6,4.2 C13.4,5.4 14.6,5.4 15.6,5 L23,2.3 L23,-2.3 L15.6,-5 C14.6,-5.4 13.4,-5.4 12.6,-4.2 Z" fill="#d9a6e2"/><ellipse cx="25.6" cy="0" rx="2.7" ry="5.3" fill="#d9a6e2" stroke="#1f2a70" stroke-width="1.15"/></g><g transform="rotate(65)"><path d="M12.6,-4.2 C11,-2 11,2 12.6,4.2 C13.4,5.4 14.6,5.4 15.6,5 L23,2.3 L23,-2.3 L15.6,-5 C14.6,-5.4 13.4,-5.4 12.6,-4.2 Z" fill="#d9a6e2"/><ellipse cx="25.6" cy="0" rx="2.7" ry="5.3" fill="#d9a6e2" stroke="#1f2a70" stroke-width="1.15"/></g><g transform="rotate(125)"><path d="M12.6,-4.2 C11,-2 11,2 12.6,4.2 C13.4,5.4 14.6,5.4 15.6,5 L23,2.3 L23,-2.3 L15.6,-5 C14.6,-5.4 13.4,-5.4 12.6,-4.2 Z" fill="#d9a6e2"/><ellipse cx="25.6" cy="0" rx="2.7" ry="5.3" fill="#d9a6e2" stroke="#1f2a70" stroke-width="1.15"/></g><g transform="rotate(185)"><path d="M12.6,-4.2 C11,-2 11,2 12.6,4.2 C13.4,5.4 14.6,5.4 15.6,5 L23,2.3 L23,-2.3 L15.6,-5 C14.6,-5.4 13.4,-5.4 12.6,-4.2 Z" fill="#d9a6e2"/><ellipse cx="25.6" cy="0" rx="2.7" ry="5.3" fill="#d9a6e2" stroke="#1f2a70" stroke-width="1.15"/></g><g transform="rotate(245)"><path d="M12.6,-4.2 C11,-2 11,2 12.6,4.2 C13.4,5.4 14.6,5.4 15.6,5 L23,2.3 L23,-2.3 L15.6,-5 C14.6,-5.4 13.4,-5.4 12.6,-4.2 Z" fill="#d9a6e2"/><ellipse cx="25.6" cy="0" rx="2.7" ry="5.3" fill="#d9a6e2" stroke="#1f2a70" stroke-width="1.15"/></g><circle r="6" fill="#d9a6e2" stroke="#8b36a6" stroke-width="0.9"/></g>
<g transform="translate(870.0,358.0) scale(0.665) rotate(-29)"><path transform="rotate(-85)" d="M17,-3.8 C20.5,-3.3 23.5,-2.3 26.4,-2.1 C27.3,-2.3 27.5,-3.4 27.6,-4.6 C27.8,-6.4 31.0,-6.6 31.5,-4.7 C32.2,-1.6 32.2,1.6 31.5,4.7 C31.0,6.6 27.8,6.4 27.6,4.6 C27.5,3.4 27.3,2.3 26.4,2.1 C23.5,2.3 20.5,3.3 17,3.8 Z" fill="#1f2a70" stroke="#1f2a70" stroke-width="3.6" stroke-linejoin="round"/><path transform="rotate(-25)" d="M17,-3.8 C20.5,-3.3 23.5,-2.3 26.4,-2.1 C27.3,-2.3 27.5,-3.4 27.6,-4.6 C27.8,-6.4 31.0,-6.6 31.5,-4.7 C32.2,-1.6 32.2,1.6 31.5,4.7 C31.0,6.6 27.8,6.4 27.6,4.6 C27.5,3.4 27.3,2.3 26.4,2.1 C23.5,2.3 20.5,3.3 17,3.8 Z" fill="#1f2a70" stroke="#1f2a70" stroke-width="3.6" stroke-linejoin="round"/><path transform="rotate(35)" d="M17,-3.8 C20.5,-3.3 23.5,-2.3 26.4,-2.1 C27.3,-2.3 27.5,-3.4 27.6,-4.6 C27.8,-6.4 31.0,-6.6 31.5,-4.7 C32.2,-1.6 32.2,1.6 31.5,4.7 C31.0,6.6 27.8,6.4 27.6,4.6 C27.5,3.4 27.3,2.3 26.4,2.1 C23.5,2.3 20.5,3.3 17,3.8 Z" fill="#1f2a70" stroke="#1f2a70" stroke-width="3.6" stroke-linejoin="round"/><path transform="rotate(95)" d="M17,-3.8 C20.5,-3.3 23.5,-2.3 26.4,-2.1 C27.3,-2.3 27.5,-3.4 27.6,-4.6 C27.8,-6.4 31.0,-6.6 31.5,-4.7 C32.2,-1.6 32.2,1.6 31.5,4.7 C31.0,6.6 27.8,6.4 27.6,4.6 C27.5,3.4 27.3,2.3 26.4,2.1 C23.5,2.3 20.5,3.3 17,3.8 Z" fill="#1f2a70" stroke="#1f2a70" stroke-width="3.6" stroke-linejoin="round"/><path transform="rotate(155)" d="M17,-3.8 C20.5,-3.3 23.5,-2.3 26.4,-2.1 C27.3,-2.3 27.5,-3.4 27.6,-4.6 C27.8,-6.4 31.0,-6.6 31.5,-4.7 C32.2,-1.6 32.2,1.6 31.5,4.7 C31.0,6.6 27.8,6.4 27.6,4.6 C27.5,3.4 27.3,2.3 26.4,2.1 C23.5,2.3 20.5,3.3 17,3.8 Z" fill="#1f2a70" stroke="#1f2a70" stroke-width="3.6" stroke-linejoin="round"/><path transform="rotate(215)" d="M17,-3.8 C20.5,-3.3 23.5,-2.3 26.4,-2.1 C27.3,-2.3 27.5,-3.4 27.6,-4.6 C27.8,-6.4 31.0,-6.6 31.5,-4.7 C32.2,-1.6 32.2,1.6 31.5,4.7 C31.0,6.6 27.8,6.4 27.6,4.6 C27.5,3.4 27.3,2.3 26.4,2.1 C23.5,2.3 20.5,3.3 17,3.8 Z" fill="#1f2a70" stroke="#1f2a70" stroke-width="3.6" stroke-linejoin="round"/><circle r="19.6" fill="#1f2a70" stroke="#1f2a70" stroke-width="3.2"/><ellipse transform="rotate(-55)" cx="25.6" cy="0" rx="2.7" ry="5.3" fill="#1f2a70" stroke="#1f2a70" stroke-width="3.0"/><ellipse transform="rotate(5)" cx="25.6" cy="0" rx="2.7" ry="5.3" fill="#1f2a70" stroke="#1f2a70" stroke-width="3.0"/><ellipse transform="rotate(65)" cx="25.6" cy="0" rx="2.7" ry="5.3" fill="#1f2a70" stroke="#1f2a70" stroke-width="3.0"/><ellipse transform="rotate(125)" cx="25.6" cy="0" rx="2.7" ry="5.3" fill="#1f2a70" stroke="#1f2a70" stroke-width="3.0"/><ellipse transform="rotate(185)" cx="25.6" cy="0" rx="2.7" ry="5.3" fill="#1f2a70" stroke="#1f2a70" stroke-width="3.0"/><ellipse transform="rotate(245)" cx="25.6" cy="0" rx="2.7" ry="5.3" fill="#1f2a70" stroke="#1f2a70" stroke-width="3.0"/><path transform="rotate(-85)" d="M17,-3.8 C20.5,-3.3 23.5,-2.3 26.4,-2.1 C27.3,-2.3 27.5,-3.4 27.6,-4.6 C27.8,-6.4 31.0,-6.6 31.5,-4.7 C32.2,-1.6 32.2,1.6 31.5,4.7 C31.0,6.6 27.8,6.4 27.6,4.6 C27.5,3.4 27.3,2.3 26.4,2.1 C23.5,2.3 20.5,3.3 17,3.8 Z" fill="#d9a6e2"/><path transform="rotate(-25)" d="M17,-3.8 C20.5,-3.3 23.5,-2.3 26.4,-2.1 C27.3,-2.3 27.5,-3.4 27.6,-4.6 C27.8,-6.4 31.0,-6.6 31.5,-4.7 C32.2,-1.6 32.2,1.6 31.5,4.7 C31.0,6.6 27.8,6.4 27.6,4.6 C27.5,3.4 27.3,2.3 26.4,2.1 C23.5,2.3 20.5,3.3 17,3.8 Z" fill="#d9a6e2"/><path transform="rotate(35)" d="M17,-3.8 C20.5,-3.3 23.5,-2.3 26.4,-2.1 C27.3,-2.3 27.5,-3.4 27.6,-4.6 C27.8,-6.4 31.0,-6.6 31.5,-4.7 C32.2,-1.6 32.2,1.6 31.5,4.7 C31.0,6.6 27.8,6.4 27.6,4.6 C27.5,3.4 27.3,2.3 26.4,2.1 C23.5,2.3 20.5,3.3 17,3.8 Z" fill="#d9a6e2"/><path transform="rotate(95)" d="M17,-3.8 C20.5,-3.3 23.5,-2.3 26.4,-2.1 C27.3,-2.3 27.5,-3.4 27.6,-4.6 C27.8,-6.4 31.0,-6.6 31.5,-4.7 C32.2,-1.6 32.2,1.6 31.5,4.7 C31.0,6.6 27.8,6.4 27.6,4.6 C27.5,3.4 27.3,2.3 26.4,2.1 C23.5,2.3 20.5,3.3 17,3.8 Z" fill="#d9a6e2"/><path transform="rotate(155)" d="M17,-3.8 C20.5,-3.3 23.5,-2.3 26.4,-2.1 C27.3,-2.3 27.5,-3.4 27.6,-4.6 C27.8,-6.4 31.0,-6.6 31.5,-4.7 C32.2,-1.6 32.2,1.6 31.5,4.7 C31.0,6.6 27.8,6.4 27.6,4.6 C27.5,3.4 27.3,2.3 26.4,2.1 C23.5,2.3 20.5,3.3 17,3.8 Z" fill="#d9a6e2"/><path transform="rotate(215)" d="M17,-3.8 C20.5,-3.3 23.5,-2.3 26.4,-2.1 C27.3,-2.3 27.5,-3.4 27.6,-4.6 C27.8,-6.4 31.0,-6.6 31.5,-4.7 C32.2,-1.6 32.2,1.6 31.5,4.7 C31.0,6.6 27.8,6.4 27.6,4.6 C27.5,3.4 27.3,2.3 26.4,2.1 C23.5,2.3 20.5,3.3 17,3.8 Z" fill="#d9a6e2"/><circle r="19.6" fill="#a83cc2"/><g transform="rotate(-55)"><path d="M12.6,-4.2 C11,-2 11,2 12.6,4.2 C13.4,5.4 14.6,5.4 15.6,5 L23,2.3 L23,-2.3 L15.6,-5 C14.6,-5.4 13.4,-5.4 12.6,-4.2 Z" fill="#d9a6e2"/><ellipse cx="25.6" cy="0" rx="2.7" ry="5.3" fill="#d9a6e2" stroke="#1f2a70" stroke-width="1.15"/></g><g transform="rotate(5)"><path d="M12.6,-4.2 C11,-2 11,2 12.6,4.2 C13.4,5.4 14.6,5.4 15.6,5 L23,2.3 L23,-2.3 L15.6,-5 C14.6,-5.4 13.4,-5.4 12.6,-4.2 Z" fill="#d9a6e2"/><ellipse cx="25.6" cy="0" rx="2.7" ry="5.3" fill="#d9a6e2" stroke="#1f2a70" stroke-width="1.15"/></g><g transform="rotate(65)"><path d="M12.6,-4.2 C11,-2 11,2 12.6,4.2 C13.4,5.4 14.6,5.4 15.6,5 L23,2.3 L23,-2.3 L15.6,-5 C14.6,-5.4 13.4,-5.4 12.6,-4.2 Z" fill="#d9a6e2"/><ellipse cx="25.6" cy="0" rx="2.7" ry="5.3" fill="#d9a6e2" stroke="#1f2a70" stroke-width="1.15"/></g><g transform="rotate(125)"><path d="M12.6,-4.2 C11,-2 11,2 12.6,4.2 C13.4,5.4 14.6,5.4 15.6,5 L23,2.3 L23,-2.3 L15.6,-5 C14.6,-5.4 13.4,-5.4 12.6,-4.2 Z" fill="#d9a6e2"/><ellipse cx="25.6" cy="0" rx="2.7" ry="5.3" fill="#d9a6e2" stroke="#1f2a70" stroke-width="1.15"/></g><g transform="rotate(185)"><path d="M12.6,-4.2 C11,-2 11,2 12.6,4.2 C13.4,5.4 14.6,5.4 15.6,5 L23,2.3 L23,-2.3 L15.6,-5 C14.6,-5.4 13.4,-5.4 12.6,-4.2 Z" fill="#d9a6e2"/><ellipse cx="25.6" cy="0" rx="2.7" ry="5.3" fill="#d9a6e2" stroke="#1f2a70" stroke-width="1.15"/></g><g transform="rotate(245)"><path d="M12.6,-4.2 C11,-2 11,2 12.6,4.2 C13.4,5.4 14.6,5.4 15.6,5 L23,2.3 L23,-2.3 L15.6,-5 C14.6,-5.4 13.4,-5.4 12.6,-4.2 Z" fill="#d9a6e2"/><ellipse cx="25.6" cy="0" rx="2.7" ry="5.3" fill="#d9a6e2" stroke="#1f2a70" stroke-width="1.15"/></g><circle r="6" fill="#d9a6e2" stroke="#8b36a6" stroke-width="0.9"/></g>
<line x1="70.20" y1="486.7" x2="70.20" y2="705.4" stroke="#b9b9b9" stroke-width="1"/>
<line x1="70.2" y1="486.70" x2="472.59999999999997" y2="486.70" stroke="#b9b9b9" stroke-width="1"/>
<line x1="150.68" y1="486.7" x2="150.68" y2="705.4" stroke="#b9b9b9" stroke-width="1"/>
<line x1="70.2" y1="530.44" x2="472.59999999999997" y2="530.44" stroke="#b9b9b9" stroke-width="1"/>
<line x1="231.16" y1="486.7" x2="231.16" y2="705.4" stroke="#b9b9b9" stroke-width="1"/>
<line x1="70.2" y1="574.18" x2="472.59999999999997" y2="574.18" stroke="#b9b9b9" stroke-width="1"/>
<line x1="311.64" y1="486.7" x2="311.64" y2="705.4" stroke="#b9b9b9" stroke-width="1"/>
<line x1="70.2" y1="617.92" x2="472.59999999999997" y2="617.92" stroke="#b9b9b9" stroke-width="1"/>
<line x1="392.12" y1="486.7" x2="392.12" y2="705.4" stroke="#b9b9b9" stroke-width="1"/>
<line x1="70.2" y1="661.66" x2="472.59999999999997" y2="661.66" stroke="#b9b9b9" stroke-width="1"/>
<line x1="472.60" y1="486.7" x2="472.60" y2="705.4" stroke="#b9b9b9" stroke-width="1"/>
<line x1="70.2" y1="705.40" x2="472.59999999999997" y2="705.40" stroke="#b9b9b9" stroke-width="1"/>
<rect x="119.65" y="499.45" width="13.7" height="13.7" fill="#c9a0d8" stroke="#f6f2f8" stroke-width="1.2" opacity="1"/>
<rect x="119.65" y="497.95" width="13.7" height="13.7" fill="#4d2a98" stroke="#f6f2f8" stroke-width="1.2" opacity="1"/>
<rect x="152.05" y="510.75" width="13.7" height="13.7" fill="#4d2a98" stroke="#f6f2f8" stroke-width="1.2" opacity="1"/>
<rect x="152.05" y="493.15" width="13.7" height="13.7" fill="#4d2a98" stroke="#f6f2f8" stroke-width="1.2" opacity="1"/>
<rect x="159.65" y="502.95" width="13.7" height="13.7" fill="#4d2a98" stroke="#f6f2f8" stroke-width="1.2" opacity="1"/>
<rect x="159.65" y="523.85" width="13.7" height="13.7" fill="#4d2a98" stroke="#f6f2f8" stroke-width="1.2" opacity="1"/>
<rect x="159.65" y="532.65" width="13.7" height="13.7" fill="#4d2a98" stroke="#f6f2f8" stroke-width="1.2" opacity="1"/>
<rect x="192.25" y="527.65" width="13.7" height="13.7" fill="#4d2a98" stroke="#f6f2f8" stroke-width="1.2" opacity="1"/>
<rect x="223.95" y="569.15" width="13.7" height="13.7" fill="#a23bb8" stroke="#f6f2f8" stroke-width="1.2" opacity="1"/>
<rect x="305.05" y="589.15" width="13.7" height="13.7" fill="#a23bb8" stroke="#f6f2f8" stroke-width="1.2" opacity="1"/>
<rect x="344.75" y="600.85" width="13.7" height="13.7" fill="#a23bb8" stroke="#f6f2f8" stroke-width="1.2" opacity="1"/>
<rect x="393.05" y="586.95" width="13.7" height="13.7" fill="#a23bb8" stroke="#f6f2f8" stroke-width="1.2" opacity="1"/>
<rect x="425.15" y="642.35" width="13.7" height="13.7" fill="#a23bb8" stroke="#f6f2f8" stroke-width="1.2" opacity="1"/>
<rect x="449.25" y="659.35" width="13.7" height="13.7" fill="#a23bb8" stroke="#f6f2f8" stroke-width="1.2" opacity="1"/>
<line x1="126.5" y1="504.8" x2="455.3" y2="653.8" stroke="#33406f" stroke-width="1.15" stroke-dasharray="4.4,4.2"/>
<line x1="573.6" y1="487.40" x2="973.3" y2="487.40" stroke="#aeb2bc" stroke-width="1"/>
<line x1="573.6" y1="541.90" x2="973.3" y2="541.90" stroke="#aeb2bc" stroke-width="1"/>
<line x1="573.6" y1="596.40" x2="973.3" y2="596.40" stroke="#aeb2bc" stroke-width="1"/>
<line x1="573.6" y1="650.90" x2="973.3" y2="650.90" stroke="#aeb2bc" stroke-width="1"/>
<line x1="573.6" y1="705.40" x2="973.3" y2="705.40" stroke="#aeb2bc" stroke-width="1"/>
<line x1="573.6" y1="487.4" x2="573.6" y2="705.4" stroke="#aeb2bc" stroke-width="1"/>
<rect x="582.0" y="591.0" width="24" height="114.7" fill="#4d2a98"/>
<rect x="608.8" y="574.7" width="24" height="131.0" fill="#a23bb8"/>
<rect x="648.6" y="596.5" width="24" height="109.2" fill="#4d2a98"/>
<rect x="675.4" y="541.9" width="24" height="163.8" fill="#a23bb8"/>
<rect x="715.2" y="552.8" width="24" height="152.9" fill="#4d2a98"/>
<rect x="742.0" y="531.0" width="24" height="174.7" fill="#a23bb8"/>
<rect x="781.8" y="531.0" width="24" height="174.7" fill="#4d2a98"/>
<rect x="808.6" y="514.6" width="24" height="191.1" fill="#a23bb8"/>
<rect x="848.4" y="585.6" width="24" height="120.1" fill="#4d2a98"/>
<rect x="875.2" y="503.7" width="24" height="202.0" fill="#a23bb8"/>
<rect x="915.0" y="607.4" width="24" height="98.3" fill="#4d2a98"/>
<rect x="941.8" y="498.2" width="24" height="207.5" fill="#a23bb8"/>
<rect x="593.3" y="504.7" width="20.3" height="15.7" fill="#4d2a98"/>
<rect x="657.5" y="504.7" width="20.5" height="15.7" fill="#a23bb8"/>
<rect x="586.70" y="714.3" width="14.50" height="22.6" fill="#000000"/>
<rect x="600.90" y="714.3" width="14.50" height="22.6" fill="#f8e11e"/>
<rect x="615.10" y="714.3" width="14.50" height="22.6" fill="#e8001c"/>
<svg x="652.3" y="714.3" width="42.6" height="22.6" viewBox="0 0 60 40" preserveAspectRatio="none" style="overflow:hidden"><g><rect width="60" height="40" fill="#2528c4"/><path d="M0,0 L60,40 M60,0 L0,40" stroke="#fff" stroke-width="8.4"/><path d="M0,0 L60,40 M60,0 L0,40" stroke="#e8001c" stroke-width="3.4"/><path d="M30,0 V40" stroke="#fff" stroke-width="9.6"/><path d="M0,20 H60" stroke="#fff" stroke-width="12.6"/><path d="M30,0 V40" stroke="#e8001c" stroke-width="6.4"/><path d="M0,20 H60" stroke="#e8001c" stroke-width="8.9"/></g></svg>
<rect x="719.5" y="714.3" width="42.6" height="22.6" fill="#d80a1e"/>
<rect x="719.5" y="719.95" width="42.6" height="11.30" fill="#f8e11e"/>
<rect x="786.20" y="714.3" width="14.50" height="22.6" fill="#2a70c8"/>
<rect x="800.40" y="714.3" width="14.50" height="22.6" fill="#ffffff"/>
<rect x="814.60" y="714.3" width="14.50" height="22.6" fill="#e8001c"/>
<rect x="852.70" y="714.3" width="14.50" height="22.6" fill="#2aa81c"/>
<rect x="866.90" y="714.3" width="14.50" height="22.6" fill="#ffffff"/>
<rect x="881.10" y="714.3" width="14.50" height="22.6" fill="#e8001c"/>
<rect x="918.8" y="714.30" width="42.6" height="7.83" fill="#000000"/>
<rect x="918.8" y="721.83" width="42.6" height="7.83" fill="#e8001c"/>
<rect x="918.8" y="729.37" width="42.6" height="7.83" fill="#f8e11e"/>
</svg>
<div class="t" id="t0" style="left:15.20px;top:10.48px;font-size:10.3px;line-height:10.3px;font-weight:400;color:#1a2b63;font-family:'Liberation Sans', sans-serif;letter-spacing:0.000px;transform:scaleX(1.1311);transform-origin:0 0;">Material de marketing</div>
<div class="t" id="t1" style="left:15.00px;top:28.88px;font-size:25.3px;line-height:25.3px;font-weight:700;color:#0c255c;font-family:'Liberation Sans', sans-serif;letter-spacing:0.166px;">Infografía:</div>
<div class="t" id="t2" style="left:148.50px;top:28.88px;font-size:25.3px;line-height:25.3px;font-weight:400;color:#0c255c;font-family:'Liberation Sans', sans-serif;letter-spacing:0.000px;transform:scaleX(1.0483);transform-origin:0 0;">Panorámica de la economía global en septiembre de 2020</div>
<div class="t" id="t3" style="left:857.80px;top:18.08px;font-size:34.4px;line-height:34.4px;font-weight:400;color:#14235c;font-family:'Liberation Sans', sans-serif;letter-spacing:0.000px;transform:scaleX(1.0297);transform-origin:0 0;-webkit-text-stroke:1.5px #14235c;">Schroders</div>
<div class="t" id="t4" style="left:34.00px;top:98.10px;font-size:33.2px;line-height:33.2px;font-weight:400;color:#ffffff;font-family:'Liberation Sans', sans-serif;letter-spacing:0.000px;transform:scaleX(0.9514);transform-origin:0 0;-webkit-text-stroke:1.6px #ffffff;">¿Cuáles son las perspectivas para la zona euro y el Reino Unido?</div>
<div class="t" id="t5" style="left:163.60px;top:157.28px;font-size:24.0px;line-height:24.0px;font-weight:400;color:#0c255c;font-family:'Liberation Sans', sans-serif;letter-spacing:0.000px;transform:scaleX(1.0222);transform-origin:0 0;-webkit-text-stroke:1.3px #0c255c;">Rebajamos nuestras previsiones de crecimiento para la zona euro</div>
<div class="t" id="t6" style="left:163.20px;top:186.28px;font-size:24.0px;line-height:24.0px;font-weight:400;color:#0c255c;font-family:'Liberation Sans', sans-serif;letter-spacing:0.000px;transform:scaleX(1.0393);transform-origin:0 0;-webkit-text-stroke:1.3px #0c255c;">y el Reino Unido correspondientes a 2020</div>
<div class="t" id="t7" style="left:265.60px;top:213.67px;font-size:22.6px;line-height:22.6px;font-weight:400;color:#2874b8;font-family:'Liberation Sans', sans-serif;letter-spacing:0.000px;transform:scaleX(0.9724);transform-origin:0 0;-webkit-text-stroke:1.2px #2874b8;">-6,1%</div>
<div class="t" id="t8" style="left:440.60px;top:213.67px;font-size:22.6px;line-height:22.6px;font-weight:400;color:#2874b8;font-family:'Liberation Sans', sans-serif;letter-spacing:0.000px;transform:scaleX(1.0401);transform-origin:0 0;-webkit-text-stroke:1.2px #2874b8;">-8,5%</div>
<div class="t" id="t9" style="left:252.20px;top:338.53px;font-size:33.4px;line-height:33.4px;font-weight:400;color:#0c255c;font-family:'Liberation Sans', sans-serif;letter-spacing:0.000px;transform:scaleX(0.9560);transform-origin:0 0;-webkit-text-stroke:1.25px #0c255c;">-7,8%</div>
<div class="t" id="t10" style="left:421.40px;top:338.53px;font-size:33.4px;line-height:33.4px;font-weight:400;color:#0c255c;font-family:'Liberation Sans', sans-serif;letter-spacing:0.000px;transform:scaleX(0.9490);transform-origin:0 0;-webkit-text-stroke:1.25px #0c255c;">-10,4%</div>
<div class="t" id="t11" style="left:677.50px;top:216.62px;font-size:19.7px;line-height:19.7px;font-weight:400;color:#1f2d62;font-family:'Liberation Sans', sans-serif;letter-spacing:0.079px;">Los datos de crecimiento del 2T</div>
<div class="t" id="t12" style="left:677.50px;top:239.82px;font-size:19.7px;line-height:19.7px;font-weight:400;color:#1f2d62;font-family:'Liberation Sans', sans-serif;letter-spacing:0.187px;">han sido malos, ya que hubo</div>
<div class="t" id="t13" style="left:677.50px;top:263.02px;font-size:19.7px;line-height:19.7px;font-weight:400;color:#1f2d62;font-family:'Liberation Sans', sans-serif;letter-spacing:0.444px;">confinamientos prolongados que</div>
<div class="t" id="t14" style="left:677.50px;top:286.22px;font-size:19.7px;line-height:19.7px;font-weight:400;color:#1f2d62;font-family:'Liberation Sans', sans-serif;letter-spacing:0.280px;">afectaron a una mayor parte de</div>
<div class="t" id="t15" style="left:677.50px;top:309.42px;font-size:19.7px;line-height:19.7px;font-weight:400;color:#1f2d62;font-family:'Liberation Sans', sans-serif;letter-spacing:0.094px;">la economía</div>
<div class="t" id="t16" style="left:28.50px;top:431.20px;font-size:15.0px;line-height:15.0px;font-weight:700;color:#ffffff;font-family:'Liberation Sans', sans-serif;letter-spacing:0.000px;transform:scaleX(1.0653);transform-origin:0 0;">Quarterly GDP Growth (%)</div>
<div class="t" id="t17" style="left:529.60px;top:431.40px;font-size:15.0px;line-height:15.0px;font-weight:700;color:#ffffff;font-family:'Liberation Sans', sans-serif;letter-spacing:0.000px;transform:scaleX(1.0759);transform-origin:0 0;">Implied share of economy impacted (%)</div>
<div class="t" id="t18" style="left:57.49px;top:480.05px;font-size:14px;line-height:14px;font-weight:400;color:#1f2d62;font-family:'Liberation Sans', sans-serif;letter-spacing:0.315px;">0</div>
<div class="t" id="t19" style="left:52.50px;top:523.79px;font-size:14px;line-height:14px;font-weight:400;color:#1f2d62;font-family:'Liberation Sans', sans-serif;letter-spacing:0.325px;">-5</div>
<div class="t" id="t20" style="left:44.38px;top:567.53px;font-size:14px;line-height:14px;font-weight:400;color:#1f2d62;font-family:'Liberation Sans', sans-serif;letter-spacing:0.327px;">-10</div>
<div class="t" id="t21" style="left:44.38px;top:611.27px;font-size:14px;line-height:14px;font-weight:400;color:#1f2d62;font-family:'Liberation Sans', sans-serif;letter-spacing:0.327px;">-15</div>
<div class="t" id="t22" style="left:44.38px;top:655.01px;font-size:14px;line-height:14px;font-weight:400;color:#1f2d62;font-family:'Liberation Sans', sans-serif;letter-spacing:0.327px;">-20</div>
<div class="t" id="t23" style="left:44.38px;top:698.75px;font-size:14px;line-height:14px;font-weight:400;color:#1f2d62;font-family:'Liberation Sans', sans-serif;letter-spacing:0.327px;">-25</div>
<div class="t" id="t24" style="left:66.94px;top:713.75px;font-size:14px;line-height:14px;font-weight:400;color:#1f2d62;font-family:'Liberation Sans', sans-serif;letter-spacing:0.315px;">0</div>
<div class="t" id="t25" style="left:143.37px;top:713.75px;font-size:14px;line-height:14px;font-weight:400;color:#1f2d62;font-family:'Liberation Sans', sans-serif;letter-spacing:0.323px;">10</div>
<div class="t" id="t26" style="left:223.85px;top:713.75px;font-size:14px;line-height:14px;font-weight:400;color:#1f2d62;font-family:'Liberation Sans', sans-serif;letter-spacing:0.323px;">20</div>
<div class="t" id="t27" style="left:304.33px;top:713.75px;font-size:14px;line-height:14px;font-weight:400;color:#1f2d62;font-family:'Liberation Sans', sans-serif;letter-spacing:0.323px;">30</div>
<div class="t" id="t28" style="left:384.81px;top:713.75px;font-size:14px;line-height:14px;font-weight:400;color:#1f2d62;font-family:'Liberation Sans', sans-serif;letter-spacing:0.323px;">40</div>
<div class="t" id="t29" style="left:465.29px;top:713.75px;font-size:14px;line-height:14px;font-weight:400;color:#1f2d62;font-family:'Liberation Sans', sans-serif;letter-spacing:0.323px;">50</div>
<div class="t" id="t30" style="left:115.00px;top:734.70px;font-size:13px;line-height:13px;font-weight:400;color:#1f2d62;font-family:'Liberation Sans', sans-serif;letter-spacing:-0.033px;">Número de días de confinamiento durante el trimestre</div>
<div class="t" id="t31" style="left:75.40px;top:499.46px;font-size:10.5px;line-height:10.5px;font-weight:400;color:#1f2d62;font-family:'Liberation Sans', sans-serif;letter-spacing:-0.472px;">ALE 1T</div>
<div class="t" id="t32" style="left:82.50px;top:512.56px;font-size:10.5px;line-height:10.5px;font-weight:400;color:#1f2d62;font-family:'Liberation Sans', sans-serif;letter-spacing:-0.589px;">GB 1T</div>
<div class="t" id="t33" style="left:180.00px;top:485.66px;font-size:10.5px;line-height:10.5px;font-weight:400;color:#1f2d62;font-family:'Liberation Sans', sans-serif;letter-spacing:-0.229px;">HOL 1T</div>
<div class="t" id="t34" style="left:180.00px;top:499.46px;font-size:10.5px;line-height:10.5px;font-weight:400;color:#1f2d62;font-family:'Liberation Sans', sans-serif;letter-spacing:-0.511px;">AUS 1T</div>
<div class="t" id="t35" style="left:180.00px;top:513.06px;font-size:10.5px;line-height:10.5px;font-weight:400;color:#1f2d62;font-family:'Liberation Sans', sans-serif;letter-spacing:-0.698px;">BE 1T</div>
<div class="t" id="t36" style="left:116.40px;top:529.66px;font-size:10.5px;line-height:10.5px;font-weight:400;color:#1f2d62;font-family:'Liberation Sans', sans-serif;letter-spacing:-0.718px;">ES 1T</div>
<div class="t" id="t37" style="left:123.20px;top:547.76px;font-size:10.5px;line-height:10.5px;font-weight:400;color:#1f2d62;font-family:'Liberation Sans', sans-serif;letter-spacing:-0.654px;">FR 1T</div>
<div class="t" id="t38" style="left:210.70px;top:531.16px;font-size:10.5px;line-height:10.5px;font-weight:400;color:#1f2d62;font-family:'Liberation Sans', sans-serif;letter-spacing:-0.482px;">IT 1T</div>
<div class="t" id="t39" style="left:179.30px;top:571.96px;font-size:10.5px;line-height:10.5px;font-weight:400;color:#1f2d62;font-family:'Liberation Sans', sans-serif;letter-spacing:-0.522px;">ALE 2T</div>
<div class="t" id="t40" style="left:264.70px;top:591.26px;font-size:10.5px;line-height:10.5px;font-weight:400;color:#1f2d62;font-family:'Liberation Sans', sans-serif;letter-spacing:-0.482px;">IT 2T</div>
<div class="t" id="t41" style="left:309.10px;top:617.86px;font-size:10.5px;line-height:10.5px;font-weight:400;color:#1f2d62;font-family:'Liberation Sans', sans-serif;letter-spacing:-0.734px;">FR 2T</div>
<div class="t" id="t42" style="left:411.40px;top:589.06px;font-size:10.5px;line-height:10.5px;font-weight:400;color:#1f2d62;font-family:'Liberation Sans', sans-serif;letter-spacing:-0.617px;">BE 2T</div>
<div class="t" id="t43" style="left:380.40px;top:646.06px;font-size:10.5px;line-height:10.5px;font-weight:400;color:#1f2d62;font-family:'Liberation Sans', sans-serif;letter-spacing:-0.738px;">ES 2T</div>
<div class="t" id="t44" style="left:409.20px;top:664.46px;font-size:10.5px;line-height:10.5px;font-weight:400;color:#1f2d62;font-family:'Liberation Sans', sans-serif;letter-spacing:-0.569px;">GB 2T</div>
<div class="t" id="t45" style="left:552.98px;top:479.65px;font-size:14px;line-height:14px;font-weight:400;color:#1f2d62;font-family:'Liberation Sans', sans-serif;letter-spacing:0.323px;">40</div>
<div class="t" id="t46" style="left:552.98px;top:534.15px;font-size:14px;line-height:14px;font-weight:400;color:#1f2d62;font-family:'Liberation Sans', sans-serif;letter-spacing:0.323px;">30</div>
<div class="t" id="t47" style="left:552.98px;top:588.65px;font-size:14px;line-height:14px;font-weight:400;color:#1f2d62;font-family:'Liberation Sans', sans-serif;letter-spacing:0.323px;">20</div>
<div class="t" id="t48" style="left:552.98px;top:643.15px;font-size:14px;line-height:14px;font-weight:400;color:#1f2d62;font-family:'Liberation Sans', sans-serif;letter-spacing:0.323px;">10</div>
<div class="t" id="t49" style="left:561.09px;top:697.65px;font-size:14px;line-height:14px;font-weight:400;color:#1f2d62;font-family:'Liberation Sans', sans-serif;letter-spacing:0.315px;">0</div>
<div class="t" id="t50" style="left:620.40px;top:506.77px;font-size:13.5px;line-height:13.5px;font-weight:400;color:#1f2d62;font-family:'Liberation Sans', sans-serif;letter-spacing:-0.983px;">1T</div>
<div class="t" id="t51" style="left:684.00px;top:506.77px;font-size:13.5px;line-height:13.5px;font-weight:400;color:#1f2d62;font-family:'Liberation Sans', sans-serif;letter-spacing:-0.383px;">2T</div>
<div class="t" id="t52" style="left:279.20px;top:761.98px;font-size:11.6px;line-height:11.6px;font-weight:400;color:#1f2d62;font-family:'Liberation Sans', sans-serif;letter-spacing:-0.228px;">Fuente: Refinitiv Datastream, Eurostat, Schroders Economics Group, 13 de agosto de 2020.</div>
<div class="t" id="t53" style="left:14.70px;top:785.83px;font-size:11.3px;line-height:11.3px;font-weight:400;color:#1f2d62;font-family:'Liberation Sans', sans-serif;letter-spacing:0.000px;transform:scaleX(1.0630);transform-origin:0 0;"><b>Fuente:</b> Schroders, septiembre de 2020.</div>
<div class="t" id="t54" style="left:14.60px;top:802.37px;font-size:7.0px;line-height:7.0px;font-weight:400;color:#1f2d62;font-family:'Liberation Sans', sans-serif;letter-spacing:0.000px;transform:scaleX(1.1022);transform-origin:0 0;-webkit-text-stroke:0.2px #1f2d62;">La rentabilidad registrada en el pasado no es un indicador fiable de los resultados futuros. El precio de las acciones y los ingresos derivados de las mismas pueden tanto subir como bajar y los inversores pueden no recuperar el importe original invertido. Las previsiones recogidas en el</div>
<div class="t" id="t55" style="left:14.60px;top:811.37px;font-size:7.0px;line-height:7.0px;font-weight:400;color:#1f2d62;font-family:'Liberation Sans', sans-serif;letter-spacing:0.000px;transform:scaleX(1.0979);transform-origin:0 0;-webkit-text-stroke:0.2px #1f2d62;">documento son el resultado de modelos estadísticos basados en una serie de supuestos. Las previsiones están sujetas a un alto nivel de incertidumbre sobre los factores económicos y de mercado futuros que pueden afectar a los resultados futuros reales. Las previsiones se ofrecen con</div>
<div class="t" id="t56" style="left:14.60px;top:820.37px;font-size:7.0px;line-height:7.0px;font-weight:400;color:#1f2d62;font-family:'Liberation Sans', sans-serif;letter-spacing:0.000px;transform:scaleX(1.1028);transform-origin:0 0;-webkit-text-stroke:0.2px #1f2d62;">fines informativos a fecha de hoy. Nuestros supuestos pueden variar sustancialmente en función de los cambios que puedan producirse en los supuestos subyacentes, por ejemplo, a medida que cambien las condiciones económicas y del mercado. No asumimos ninguna obligación de</div>
<div class="t" id="t57" style="left:14.60px;top:829.37px;font-size:7.0px;line-height:7.0px;font-weight:400;color:#1f2d62;font-family:'Liberation Sans', sans-serif;letter-spacing:0.000px;transform:scaleX(1.0968);transform-origin:0 0;-webkit-text-stroke:0.2px #1f2d62;">informarle de las actualizaciones o cambios en estos datos conforme cambien los supuestos, las condiciones económicas y del mercado, los modelos u otros aspectos.</div>
<div class="t" id="t58" style="left:14.60px;top:838.64px;font-size:5.5px;line-height:5.5px;font-weight:700;color:#1f2d62;font-family:'Liberation Sans', sans-serif;letter-spacing:0.000px;transform:scaleX(1.0228);transform-origin:0 0;">Información Importante: El equipo de economistas de Schroders ha expresado sus propios puntos de vista y opiniones de este documento y estos pueden cambiar. El presente documento ha sido redactado con una finalidad exclusivamente informativa. Su contenido no constituye una oferta de compra o venta de ningún instrumento o título financiero, ni una</div>
<div class="t" id="t59" style="left:14.60px;top:845.64px;font-size:5.5px;line-height:5.5px;font-weight:700;color:#1f2d62;font-family:'Liberation Sans', sans-serif;letter-spacing:0.000px;transform:scaleX(1.0163);transform-origin:0 0;">sugerencia para adoptar ninguna estrategia de inversión. La información contenida en el presente no constituye un asesoramiento, una recomendación o un análisis de inversión y no tiene en cuenta las circunstancias específicas de ningún destinatario. Este material no constituye una recomendación contable, jurídica o tributaria y no debe ser tenido en cuenta a tales</div>
<div class="t" id="t60" style="left:14.60px;top:852.64px;font-size:5.5px;line-height:5.5px;font-weight:700;color:#1f2d62;font-family:'Liberation Sans', sans-serif;letter-spacing:0.000px;transform:scaleX(1.0116);transform-origin:0 0;">efectos. Se considera que la información contenida en este documento es fiable, pero Schroders no garantiza su exhaustividad o exactitud. La compañía no se responsabiliza de los errores de hecho u opiniones. No se debe tomar como referencia la información y opiniones contenidas en este documento a la hora de tomas decisiones estratégicas o decisiones personales</div>
<div class="t" id="t61" style="left:14.60px;top:859.64px;font-size:5.5px;line-height:5.5px;font-weight:700;color:#1f2d62;font-family:'Liberation Sans', sans-serif;letter-spacing:0.000px;transform:scaleX(1.0099);transform-origin:0 0;">de inversión. Schroders será responsable del tratamiento de tus datos personales. Para obtener información sobre cómo Schroders podría tratar tus datos personales, consulta nuestra Política de privacidad disponible en www.schroders.com/en/privacy-policy o solicítala a infospain@schroders.es en caso de que no tengas acceso a este sitio web. Publicado por Schroder</div>
<div class="t" id="t62" style="left:14.60px;top:866.64px;font-size:5.5px;line-height:5.5px;font-weight:700;color:#1f2d62;font-family:'Liberation Sans', sans-serif;letter-spacing:0.000px;transform:scaleX(1.0269);transform-origin:0 0;">Investment Management (Europe) S.A. 5, rue Höhenhof, L-1736 Senningerberg, Luxemburgo. Número de registro Luxemburgo B 37.799. 0920/ES</div>
<div class="abs oslit" style="left:939.3px;top:25px;width:1.6px;height:8.4px;background:#fff;"></div><div class="abs oslit" style="left:939.3px;top:41.4px;width:1.6px;height:8px;background:#fff;"></div>
</div>
</body>
</html>
